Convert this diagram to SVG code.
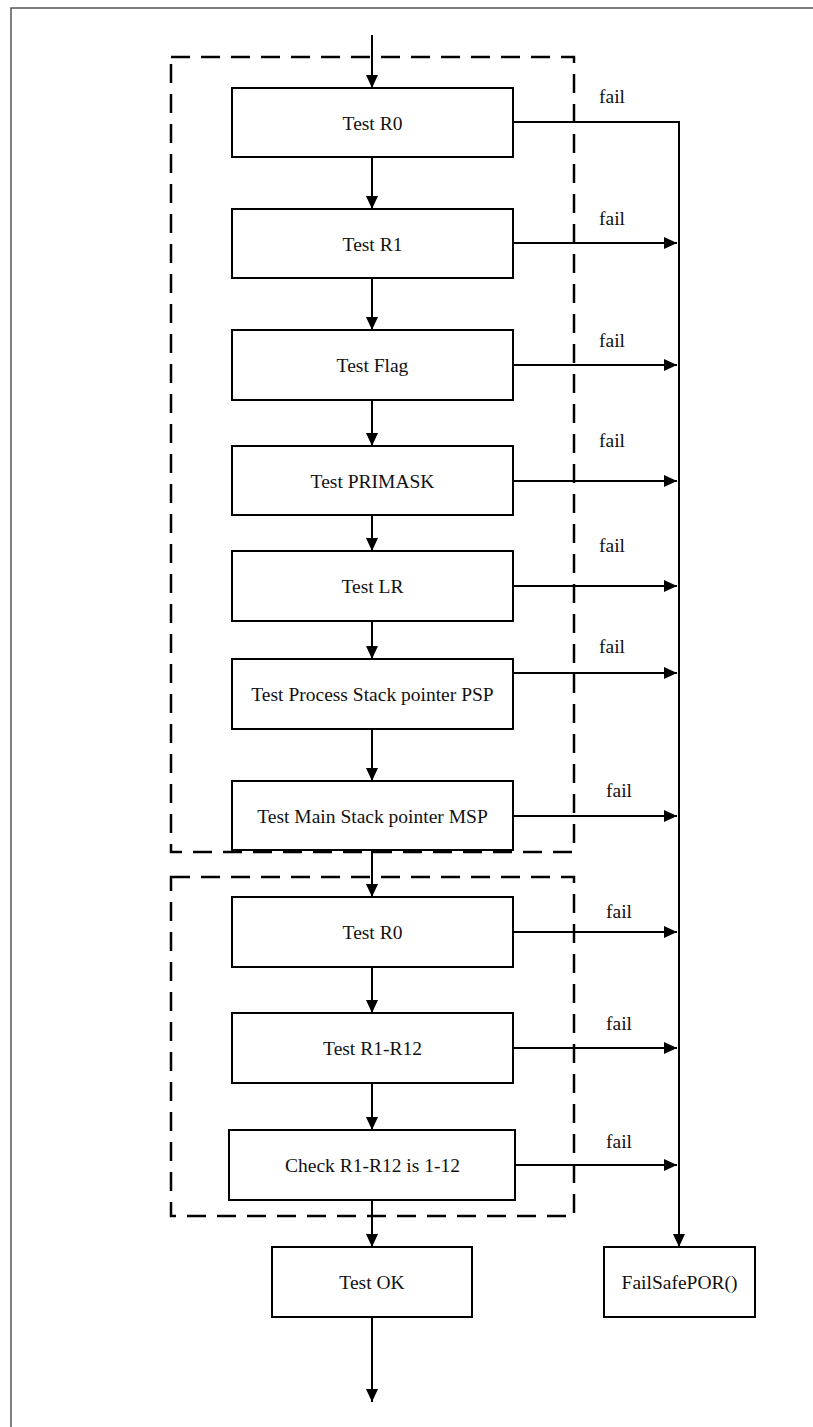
<svg xmlns="http://www.w3.org/2000/svg" width="813" height="1427" viewBox="0 0 813 1427">
<defs>
<marker id="ah" markerUnits="userSpaceOnUse" markerWidth="13" markerHeight="12" refX="13" refY="6" orient="auto">
<path d="M0,0 L13,6 L0,12 Z" fill="#000"/>
</marker>
<style>
.box{fill:#fff;stroke:#000;stroke-width:2}
.lbl{font-family:"Liberation Serif","Times New Roman",serif;font-size:19.5px;fill:#111;text-anchor:middle}
.fl{font-family:"Liberation Serif","Times New Roman",serif;font-size:19.5px;fill:#111}
.c{fill:none;stroke:#000;stroke-width:2}
.a{fill:none;stroke:#000;stroke-width:2;marker-end:url(#ah)}
.grp{fill:none;stroke:#000;stroke-width:2.5;stroke-dasharray:19 11}
</style>
</defs>
<rect x="0" y="0" width="813" height="1427" fill="#fff"/>
<rect x="11" y="8" width="830" height="1440" fill="none" stroke="#555" stroke-width="1.5"/>
<g id="group1"><rect class="grp" x="171" y="57" width="403" height="795"/></g>
<g id="group2"><rect class="grp" x="171" y="877" width="403" height="339"/></g>
<g id="connectors">
<line class="a" x1="372" y1="35" x2="372" y2="88"/>
<line class="a" x1="372" y1="157" x2="372" y2="209"/>
<line class="a" x1="372" y1="278" x2="372" y2="330"/>
<line class="a" x1="372" y1="400" x2="372" y2="446"/>
<line class="a" x1="372" y1="515" x2="372" y2="551"/>
<line class="a" x1="372" y1="621" x2="372" y2="659"/>
<line class="a" x1="372" y1="729" x2="372" y2="781"/>
<line class="a" x1="372" y1="850" x2="372" y2="897"/>
<line class="a" x1="372" y1="967" x2="372" y2="1013"/>
<line class="a" x1="372" y1="1083" x2="372" y2="1130"/>
<line class="a" x1="372" y1="1200" x2="372" y2="1247"/>
<line class="a" x1="372" y1="1317" x2="372" y2="1402"/>
<polyline class="a" points="513,122 679,122 679,1247"/>
<line class="a" x1="513" y1="243" x2="677" y2="243"/>
<line class="a" x1="513" y1="365" x2="677" y2="365"/>
<line class="a" x1="513" y1="481" x2="677" y2="481"/>
<line class="a" x1="513" y1="586" x2="677" y2="586"/>
<line class="a" x1="513" y1="673" x2="677" y2="673"/>
<line class="a" x1="513" y1="816" x2="677" y2="816"/>
<line class="a" x1="513" y1="932" x2="677" y2="932"/>
<line class="a" x1="513" y1="1048" x2="677" y2="1048"/>
<line class="a" x1="515" y1="1165" x2="677" y2="1165"/>
<text class="fl" x="599" y="103">fail</text>
<text class="fl" x="599" y="225">fail</text>
<text class="fl" x="599" y="347">fail</text>
<text class="fl" x="599" y="447">fail</text>
<text class="fl" x="599" y="552">fail</text>
<text class="fl" x="599" y="653">fail</text>
<text class="fl" x="606" y="797">fail</text>
<text class="fl" x="606" y="918">fail</text>
<text class="fl" x="606" y="1030">fail</text>
<text class="fl" x="606" y="1148">fail</text>
</g>
<g id="n1"><rect class="box" x="232" y="88" width="281" height="69"/><text class="lbl" x="372.5" y="129.5">Test R0</text></g>
<g id="n2"><rect class="box" x="232" y="209" width="281" height="69"/><text class="lbl" x="372.5" y="250.5">Test R1</text></g>
<g id="n3"><rect class="box" x="232" y="330" width="281" height="70"/><text class="lbl" x="372.5" y="372">Test Flag</text></g>
<g id="n4"><rect class="box" x="232" y="446" width="281" height="69"/><text class="lbl" x="372.5" y="487.5">Test PRIMASK</text></g>
<g id="n5"><rect class="box" x="232" y="551" width="281" height="70"/><text class="lbl" x="372.5" y="593">Test LR</text></g>
<g id="n6"><rect class="box" x="232" y="659" width="281" height="70"/><text class="lbl" x="372.5" y="701">Test Process Stack pointer PSP</text></g>
<g id="n7"><rect class="box" x="232" y="781" width="281" height="69"/><text class="lbl" x="372.5" y="822.5">Test Main Stack pointer MSP</text></g>
<g id="n8"><rect class="box" x="232" y="897" width="281" height="70"/><text class="lbl" x="372.5" y="939">Test R0</text></g>
<g id="n9"><rect class="box" x="232" y="1013" width="281" height="70"/><text class="lbl" x="372.5" y="1055">Test R1-R12</text></g>
<g id="n10"><rect class="box" x="229" y="1130" width="286" height="70"/><text class="lbl" x="372.5" y="1172">Check R1-R12 is 1-12</text></g>
<g id="n11"><rect class="box" x="272" y="1247" width="200" height="70"/><text class="lbl" x="372" y="1289">Test OK</text></g>
<g id="n12"><rect class="box" x="604" y="1247" width="151" height="70"/><text class="lbl" x="679.5" y="1289">FailSafePOR()</text></g>
</svg>
